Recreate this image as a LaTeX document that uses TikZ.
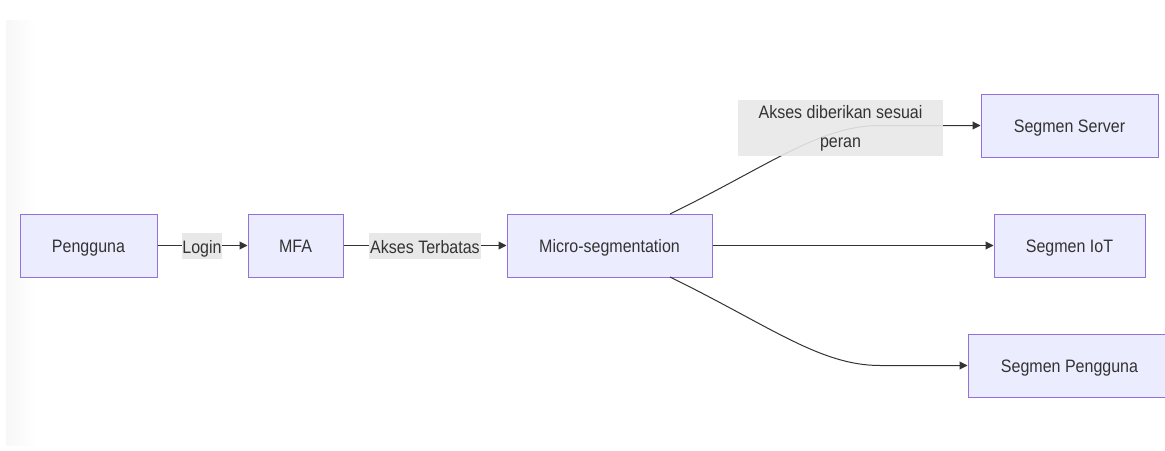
\documentclass[tikz,border=0pt]{standalone}
\usepackage{fontspec}
\setmainfont{Liberation Sans}[FakeStretch=0.89]
\usetikzlibrary{arrows.meta}
\definecolor{nodefill}{HTML}{ECECFF}
\definecolor{nodeline}{HTML}{9370DB}
\definecolor{txt}{HTML}{333333}
\definecolor{lblbg}{HTML}{E8E8E8}
\definecolor{edge}{HTML}{333333}
\tikzset{
  box/.style={draw=nodeline, fill=nodefill, line width=1pt, text=txt, inner sep=0pt,
    text height=18pt, text depth=4pt, font=\fontsize{18}{22}\selectfont},
  lbl/.style={fill=lblbg, text=txt, inner sep=0pt, font=\fontsize{18}{29}\selectfont},
  lbl1/.style={lbl, text height=18pt, text depth=4pt},
  conn/.style={draw=edge, line width=1pt, -{Triangle[length=8pt,width=8pt]}},
}
\begin{document}
\begin{tikzpicture}[x=1pt,y=-1pt]
\useasboundingbox (0,0) rectangle (1165,450);
\fill[white] (0,0) rectangle (1165,450);
\shade[left color=black!3, right color=white] (6,20) rectangle (36,445);

\node[box, minimum width=137pt, minimum height=63pt] (peng) at (88.5,245.5) {Pengguna};
\node[box, minimum width=95pt, minimum height=63pt] (mfa) at (295.5,245.5) {MFA};
\node[box, minimum width=205pt, minimum height=63pt] (micro) at (609.5,245.5) {Micro-segmentation};
\node[box, minimum width=177pt, minimum height=63pt] (srv) at (1069.5,125.5) {Segmen Server};
\node[box, minimum width=151pt, minimum height=63pt] (iot) at (1069.5,245.5) {Segmen IoT};
\node[box, minimum width=203pt, minimum height=63pt] (usr) at (1069.5,365.5) {Segmen Pengguna};

\coordinate (cs1) at (670,214);
\coordinate (cs2) at (880,125.5);
\coordinate (cu1) at (670,277);
\coordinate (cu2) at (880,365.5);

\draw[conn] (peng.east) -- (mfa.west);
\draw[conn] (mfa.east) -- (micro.west);
\draw[conn] (micro.east) -- (iot.west);
\draw[conn] (cs1) .. controls (770,165) and (820,125.5) .. (cs2) -- (srv.west);
\draw[conn] (cu1) .. controls (770,326) and (820,365.5) .. (cu2) -- (usr.west);

\node[lbl1, minimum width=40pt, minimum height=26pt] (l1) at (202,246) {Login};
\node[lbl1, minimum width=112pt, minimum height=26pt] (l2) at (425,246) {Akses Terbatas};
\node[lbl, minimum width=205pt, minimum height=56pt, align=center, fill opacity=0.9, text opacity=1] (l3) at (840.5,128) {Akses diberikan sesuai\\peran};
\end{tikzpicture}
\end{document}
